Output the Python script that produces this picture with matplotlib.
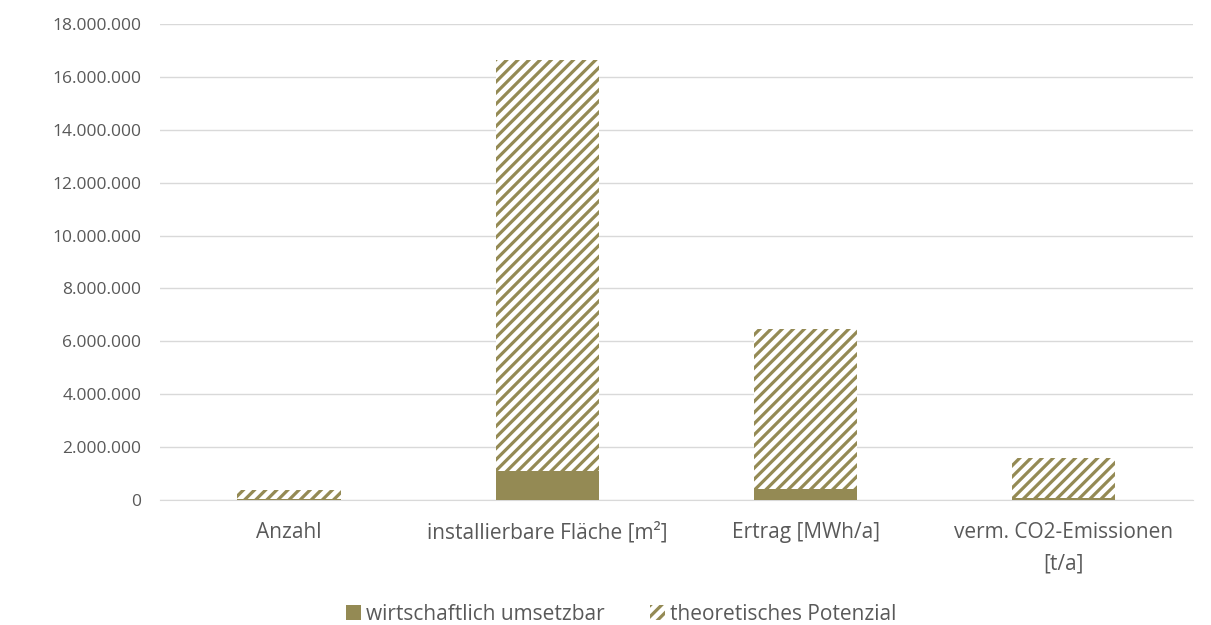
import numpy as np
import matplotlib.pyplot as plt
from matplotlib.ticker import FuncFormatter

categories = ['Anzahl', 'installierbare Fläche [m²]', 'Ertrag [MWh/a]',
              'verm. CO2-Emissionen\n[t/a]']
wirtschaftlich = [20000, 1080000, 420000, 60000]
theoretisch = [370000, 15570000, 6050000, 1540000]

olive = '#948A54'
grey_text = '#595959'
grid_col = '#D9D9D9'

plt.rcParams['font.family'] = ['Open Sans', 'DejaVu Sans']
plt.rcParams['hatch.linewidth'] = 2.3

fig = plt.figure(figsize=(12.11, 6.25), dpi=100)
ax = fig.add_axes([0.1321, 0.2, 0.853, 0.7616])

x = np.arange(len(categories))
ax.bar(x, wirtschaftlich, width=0.4, color=olive, linewidth=0,
       label='wirtschaftlich umsetzbar', zorder=3)
ax.bar(x, theoretisch, width=0.4, bottom=wirtschaftlich, color='white',
       edgecolor=olive, hatch='///', linewidth=0,
       label='theoretisches Potenzial', zorder=3)

ax.set_xlim(-0.5, len(categories) - 0.5)
ax.set_ylim(0, 18000000)
ax.set_yticks(np.arange(0, 18000001, 2000000))
ax.yaxis.set_major_formatter(FuncFormatter(lambda v, p: f'{v:,.0f}'.replace(',', '.')))
ax.set_xticks(x)
ax.set_xticklabels(categories, fontsize=15, linespacing=1.65)

ax.grid(axis='y', color=grid_col, linewidth=1, zorder=0)
for s in ['top', 'right', 'left']:
    ax.spines[s].set_visible(False)
ax.spines['bottom'].set_color(grid_col)
ax.tick_params(length=0, colors=grey_text)
ax.tick_params(axis='y', labelsize=12.5, pad=13.5)
ax.tick_params(axis='x', pad=16)

leg = fig.legend(loc='lower center', bbox_to_anchor=(0.513, -0.03), ncol=2,
                 frameon=False, fontsize=15, handlelength=0.7,
                 handleheight=0.7, handletextpad=0.25, columnspacing=2.2)
for t in leg.get_texts():
    t.set_color(grey_text)

fig.savefig('out.png', dpi=100)
